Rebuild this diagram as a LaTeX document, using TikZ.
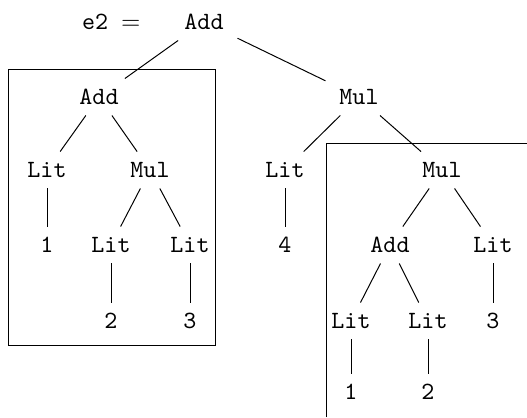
\documentclass[tikz,border=0pt]{standalone}
\begin{document}
\begin{tikzpicture}[x=0.4032pt,y=-0.4032pt,
  every node/.style={font=\ttfamily},
  tn/.style={inner sep=0pt, minimum width=26.6pt, minimum height=14.5pt, text height=6.1pt, text depth=0pt},
  lbl/.style={inner sep=0pt, text height=6.1pt, text depth=0pt, anchor=east},
  edge/.style={line width=0.4pt},
  frame/.style={line width=0.4pt}]
\useasboundingbox (0,0) rectangle (527,417);
% boxes
\draw[frame] (8,69) rectangle (215,345);
\draw[frame] (326,417) |- (527,143);
% nodes
\node[lbl] (eq) at (141,22) {e2 $=$};
\node[tn] (r) at (204,22) {Add};
\node[tn] (a) at (99,97) {Add};
\node[tn] (m) at (359,97) {Mul};
\node[tn] (a1) at (47,170) {Lit};
\node[tn] (a2) at (150,170) {Mul};
\node[tn] (a11) at (47,245) {1};
\node[tn] (a21) at (111,245) {Lit};
\node[tn] (a22) at (190,245) {Lit};
\node[tn] (a211) at (111,321) {2};
\node[tn] (a221) at (190,321) {3};
\node[tn] (m1) at (285,170) {Lit};
\node[tn] (m11) at (285,245) {4};
\node[tn] (m2) at (442,170) {Mul};
\node[tn] (m21) at (390,245) {Add};
\node[tn] (m22) at (493,245) {Lit};
\node[tn] (m211) at (351,321) {Lit};
\node[tn] (m212) at (428,321) {Lit};
\node[tn] (m221) at (493,321) {3};
\node[tn] (m2111) at (351,392) {1};
\node[tn] (m2121) at (428,392) {2};
% edges
\draw[edge] (r) -- (a);
\draw[edge] (r) -- (m);
\draw[edge] (a) -- (a1);
\draw[edge] (a) -- (a2);
\draw[edge] (a1) -- (a11);
\draw[edge] (a2) -- (a21);
\draw[edge] (a2) -- (a22);
\draw[edge] (a21) -- (a211);
\draw[edge] (a22) -- (a221);
\draw[edge] (m) -- (m1);
\draw[edge] (m) -- (m2);
\draw[edge] (m1) -- (m11);
\draw[edge] (m2) -- (m21);
\draw[edge] (m2) -- (m22);
\draw[edge] (m21) -- (m211);
\draw[edge] (m21) -- (m212);
\draw[edge] (m22) -- (m221);
\draw[edge] (m211) -- (m2111);
\draw[edge] (m212) -- (m2121);
\end{tikzpicture}
\end{document}
